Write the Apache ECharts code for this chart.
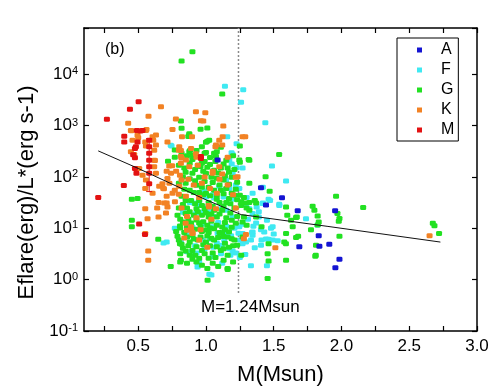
<!DOCTYPE html>
<html>
<head>
<meta charset="utf-8">
<script src="https://cdn.jsdelivr.net/npm/echarts@6/dist/echarts.min.js"></script>
<style>html,body{margin:0;padding:0;background:#fff}#c{width:500px;height:392px}</style>
</head>
<body>
<div id="c"></div>
<script>
// ---- data (mass in Msun, Eflare/L* in erg/(erg s-1)) ----
const classNames = ['A', 'F', 'G', 'K', 'M'];
const xTickLabels = [0.5, 1.0, 1.5, 2.0, 2.5, 3.0];
const xTickMarks = [0.25, 0.5, 0.75, 1.0, 1.25, 1.5, 1.75, 2.0, 2.25, 2.5, 2.75, 3.0];
const massCut = 1.24;

const ptsA = [[1.086,214],[1.406,62],[1.443,28.5],[1.561,39.5],[1.677,22.1],[1.689,4.4],[1.832,7.2],[1.837,4.5],
  [1.91,4.9],[1.953,22],[1.955,1.7],[1.985,2.5]];

const ptsF = [[1.14,5840],[1.275,5010],[1.259,2860],[1.438,1140],[1.226,446],[1.157,611],[1.189,298],[0.746,402],
  [1.487,164],[1.591,84],[1.344,48],[1.462,37],[1.541,28],[1.246,60],[1.32,24.2],[1.418,30.6],[1.738,15.4],
  [1.824,11.6],[1.48,10],[1.529,5.7],[1.443,6.2],[1.406,4.7],[1.332,5.9],[1.344,8.5],[1.27,5.0],[1.185,7.2],
  [1.135,8.5],[1.332,1.87],[1.45,1.87],[1.025,1.28],[1.197,3.6],[0.687,5.2],[1.462,6.1],[1.492,5.9],[1.29,3.1],
  [0.901,3.2],[0.938,1.77],[0.95,2.2],[1.115,4.7],[1.172,4.0],[1.054,4.3],[1.295,5.4],[1.344,7.3],[1.406,9.4],
  [1.492,10.7],[1.374,26],[1.473,35],[1.541,29.5],[1.197,118],[1.226,152],[1.172,214],[1.197,275],[1.148,87],
  [1.172,60],[1.197,37],[1.098,66],[1.061,39],[1.0,26],[0.95,33],[0.926,19.4],[0.852,19.4],[0.889,10.7],
  [1.049,10.7],[1.086,7.9],[1.148,7.9],[1.246,10.7],[1.27,7.9],[1.197,16.6],[1.295,28.4],[1.344,19.4],
  [1.135,5.9],[0.852,7.9],[0.815,5.4],[0.975,5.9],[1.049,2.8],[1.111,3.2],[0.74,417],[1.27,149],[1.12,55],
  [1.13,41],[1.00,41],[0.88,32],[0.91,31],[0.94,28],[1.02,22.5],[1.15,22.5],[0.83,20.5],[0.97,20.5],[0.90,10.6],
  [0.77,10],[1.21,10],[1.25,5.9],[1.34,8.3],[1.41,5.9],[0.71,5.4],[0.86,3.5],[0.93,3.3],[1.22,3.3],[1.04,1.23],
  [0.94,1.9],[1.37,12.7],[1.39,16.6],[1.45,14.4],[1.42,31],[1.42,63],
  [1.03,6.2],[1.08,5.2],[0.99,4.0],[1.15,11],[1.09,13],[1.24,8],[1.18,3.0],[1.27,12],[1.31,15],[1.35,11],
  [1.06,17],[0.97,12],[0.92,4.6],[1.12,2.1],[1.25,2.7],[1.36,4.2],[1.43,8.5],[1.5,7.8],[1.39,21],[1.30,40],
  [1.22,70],[1.19,180],[1.11,24],[1.05,45],[0.99,53]];

const ptsG = [[0.77,243],[0.82,290],[0.90,266],[1.00,300],[1.06,290],[1.11,380],[1.15,213],[1.32,213],[1.25,195],
  [0.80,170],[0.88,187],[0.94,170],[0.97,187],[1.01,155],[1.06,136],[1.11,149],[1.17,124],[0.85,124],[0.90,119],
  [0.95,99],[1.00,119],[1.04,99],[1.08,95],[1.13,87],[1.19,99],[1.23,79],[1.32,76],[0.80,76],[0.85,76],[0.93,69],
  [0.97,63],[1.02,63],[1.06,55],[1.11,55],[1.15,60],[0.88,55],[0.95,50],[1.00,48],[1.08,44],[1.19,48],[1.25,44],
  [1.28,40],[1.32,32],[1.37,31],[0.82,42],[0.89,35],[0.95,35],[1.02,32],[1.10,32],[1.15,32],[1.21,25],[1.26,28],
  [1.30,25],[0.80,25],[0.86,25],[0.93,24],[0.99,24],[1.06,22.5],[1.12,22.5],[0.79,18],[0.85,19.5],[0.91,18],
  [0.97,18],[1.02,16.6],[1.08,16.6],[1.15,16],[1.19,14.4],[1.27,13.3],[1.30,11.5],[0.83,13.3],[0.89,12.7],
  [0.95,12.7],[1.01,11.5],[1.08,11.5],[1.12,10.6],[0.78,8.7],[0.84,8.3],[0.90,7.3],[0.97,8.7],[1.02,8.3],
  [1.10,8.3],[1.16,6.8],[1.21,5.9],[0.80,5.9],[0.88,5.4],[0.94,5.9],[1.00,5.4],[1.06,5.9],[1.14,5.1],[1.27,6.8],
  [0.83,4.1],[0.90,3.7],[0.97,3.7],[1.05,3.3],[1.11,3.7],[1.17,4.3],[0.95,2.6],[0.88,3.0],[1.02,2.6],[1.16,3.0],
  [0.74,1.8],[0.86,2.1],[0.93,2.2],[1.16,1.65],[1.01,1.65],[1.00,475],
  [0.82,18200],[0.90,27600],[1.12,4150],[1.54,275],[1.44,101],[1.47,53],[2.16,25.6],[1.96,42],[1.97,19.4],
  [1.985,15.5],[1.98,13.7],[1.985,7.0],[2.674,12.5],[2.686,11.2],[2.72,7.9],[1.787,27],[1.80,22.6],[1.824,17.3],
  [1.832,13.3],[1.775,9.4],[1.824,11.6],[1.812,4.7],[1.807,2.85],[1.665,16.2],[1.64,10.7],[1.665,6.6],[1.591,7.9],
  [1.578,5.4],[1.591,2.4],[1.591,26],[1.628,14.4],[1.455,1.05],[1.462,2.3],[1.455,3.2],[1.462,5.0],[1.012,0.97],
  [1.16,1.57],[0.815,2.4],[0.453,14.4],[0.453,10.7],[0.453,37],[0.495,38],[0.648,6.1],[0.81,3.2],[0.81,2.2],
  [0.808,5.0],[0.808,11.1],[0.72,203],[0.815,1240],[0.82,890],[0.877,660],[0.96,850],[1.01,900],[0.882,330],
  [0.93,330],[0.97,390],[1.024,520],[1.074,250],[0.877,310],[0.877,700],[1.246,214],[1.315,220],[1.25,400],
  [1.08,310],[1.01,500],[0.87,615],[0.77,335],[0.99,290],[1.26,33],[1.29,31],[1.32,22.5],[1.28,16.6],[1.36,35],
  [1.21,44],[1.37,16.6],[1.60,18],[1.67,16.6],[1.68,7.0],[1.59,5.0],[1.41,10.7],[1.23,4.7],[1.26,3.0],[1.81,3.0],
  [0.84,150],[0.92,140],[0.98,130],[1.03,175],[1.09,120],[1.14,105],[1.21,140],[0.83,100],[0.88,92],[0.92,85],
  [0.99,82],[1.05,78],[1.10,70],[1.17,72],[1.22,58],[0.84,58],[0.91,50],[0.98,45],[1.03,43],[1.13,47],[1.17,38],
  [1.23,36],[0.85,35],[0.92,30],[0.97,28],[1.05,27],[1.08,37],[1.13,27],[1.18,30],[0.83,29],[0.88,21],[0.94,21],
  [1.00,20],[1.04,19],[1.10,19],[1.14,13],[1.18,20],[1.23,17],[0.81,15],[0.87,15],[0.93,14.5],[0.98,13.5],
  [1.04,13.8],[1.06,9.8],[1.14,9.4],[1.19,10.5],[1.22,12.5],[0.81,10.2],[0.86,10.8],[0.92,9.6],[0.96,10.8],
  [1.00,9.3],[1.03,10.2],[1.12,8.0],[1.17,8.6],[0.79,7.0],[0.86,6.8],[0.91,6.2],[0.96,6.8],[1.01,7.1],[1.04,6.4],
  [1.09,6.6],[1.13,6.9],[1.19,6.3],[0.82,4.9],[0.87,4.6],[0.93,4.4],[0.98,4.8],[1.03,4.6],[1.08,4.4],[1.13,4.0],
  [1.20,4.6],[0.85,3.6],[0.92,3.0],[0.99,3.2],[1.07,2.7],[1.13,2.4],[0.90,2.5],[1.05,2.1],[0.97,1.9],[1.09,1.8],
  [1.20,2.2],[0.96,160],[1.07,200],[1.13,180],[0.90,220],[1.20,260],[0.86,260],[1.03,240],[0.99,200],[1.16,150]];

const ptsK = [[0.668,2340],[0.926,1870],[0.995,1790],[0.576,1530],[0.426,1110],[0.778,1350],[1.128,990],[1.27,610],
  [0.753,840],[0.823,610],[0.897,610],[0.446,810],[0.495,660],[0.557,810],[0.606,610],[0.631,420],[0.552,480],
  [0.716,480],[1.074,420],[1.098,520],[1.123,610],[0.963,1250],[0.803,390],[0.815,250],[0.815,185],[0.742,118],
  [0.716,94],[0.679,74],[0.655,66],[0.606,48],[0.552,60],[0.552,24],[0.569,15.4],[0.552,7.9],[0.574,3.6],
  [0.574,2.4],[0.65,16.6],[0.705,20],[0.716,26],[0.753,48],[0.803,66],[1.512,4.2],[2.65,7.2],[1.233,101],
  [1.29,610],[0.852,214],[0.877,158],[0.926,285],[1.049,118],[1.098,158],[0.901,7.9],[0.889,10.7],[0.95,5.9],
  [1.024,26],[0.852,42],[1.295,7.6],[1.074,24],[0.561,840],[0.631,660],[0.45,800],[0.50,580],[0.611,520],
  [0.98,1230],[0.815,330],[0.623,210],[0.729,164],[0.685,60],[0.808,108],[0.771,33],[0.692,31],[0.64,25],
  [0.458,520],[0.446,310],[0.47,275],[0.507,147],[0.532,108],[0.557,87],[0.618,333],[0.618,158],[0.631,118],
  [0.557,400],[0.62,213],[0.80,333],[0.89,360],[0.93,243],[0.82,235],[0.75,165],[0.71,130],[0.78,130],[0.82,87],
  [0.73,76],[0.69,59],[0.77,55],[0.71,42],[0.80,46],[0.65,32],[0.71,31],[0.82,25],[1.02,28],[1.07,390],[1.12,420],
  [1.16,243],[1.22,99],[0.89,9.9],[0.86,9.2],[0.90,8.3],[1.01,4.3],[1.22,25],[1.28,6.3],[1.08,48],[0.97,76],
  [1.05,130],[1.12,115],[0.86,17],[0.93,16],[0.85,12.5],[0.96,9.4],[0.84,6.5],[1.04,15],[0.95,40],[0.91,70],
  [0.99,100],[1.03,60],[0.87,90],[0.94,170],[1.1,90],[1.16,70],[1.2,45]];

const ptsM = [[0.503,2930],[0.439,2080],[0.269,1340],[0.397,620],[0.397,480],[0.495,480],[0.483,390],[0.476,360],
  [0.463,270],[0.476,238],[0.476,147],[0.487,118],[0.394,68],[0.205,40],[0.507,12.1],[0.55,7.6],[0.49,810],
  [0.532,810],[0.517,790],[0.963,230],[0.963,250],[0.581,521],[0.581,390],[0.581,290],[0.581,213],[0.581,158],
  [0.581,118],[0.581,74]];
const errM = [[0.581, 52, 560]];

const fitMass = [0.205, 0.5, 1.0, 1.26, 1.9, 2.73];
const fitVal = [323, 147, 36, 18.5, 10.9, 5.4];
const cutLine = [[massCut, 0.55], [massCut, 80000]];

// ---- chart ----
const FONT = 'Liberation Sans, Arial, sans-serif';
const colors = {A: '#1414d2', F: '#3fe9f2', G: '#22e122', K: '#f28224', M: '#e31212'};
const zOrder = {A: 5, F: 2, G: 3, K: 4, M: 6};
const ptsByClass = {A: ptsA, F: ptsF, G: ptsG, K: ptsK, M: ptsM};

function powLabel(v) {
  const l = Math.log10(v);
  const e = Math.round(l);
  if (Math.abs(l - e) > 0.01) return '';
  return '10{s|' + e + '}';
}

const axisLineStyle = {lineStyle: {color: '#000', width: 1.5}};
const tickStyle = {inside: true, length: 5, lineStyle: {color: '#000', width: 1.2}};

const chart = echarts.init(document.getElementById('c'), null, {renderer: 'canvas'});
const series = classNames.map(c => ({
  name: c, type: 'scatter', xAxisIndex: 0, yAxisIndex: 0,
  data: ptsByClass[c], symbol: 'roundRect', symbolSize: [6, 5], z: zOrder[c],
  itemStyle: {color: colors[c], opacity: 1}, emphasis: {disabled: true}, silent: true
}));
series.push({
  type: 'custom', xAxisIndex: 0, yAxisIndex: 0, z: 6, silent: true,
  data: errM, encode: {x: 0, y: [1, 2]},
  renderItem: function (params, api) {
    const x = api.value(0);
    const p1 = api.coord([x, api.value(1)]);
    const p2 = api.coord([x, api.value(2)]);
    const st = {stroke: colors.M, lineWidth: 1};
    return {type: 'group', children: [
      {type: 'line', shape: {x1: p1[0], y1: p1[1], x2: p2[0], y2: p2[1]}, style: st},
      {type: 'line', shape: {x1: p1[0] - 3, y1: p1[1], x2: p1[0] + 3, y2: p1[1]}, style: st},
      {type: 'line', shape: {x1: p2[0] - 3, y1: p2[1], x2: p2[0] + 3, y2: p2[1]}, style: st}
    ]};
  }
});
series.push({
  type: 'line', xAxisIndex: 0, yAxisIndex: 0, z: 7, silent: true, symbol: 'none',
  data: fitMass.map((m, i) => [m, fitVal[i]]),
  lineStyle: {color: '#111', width: 1}
});
series.push({
  type: 'line', xAxisIndex: 0, yAxisIndex: 0, z: 1, silent: true, symbol: 'none',
  data: cutLine, lineStyle: {color: '#8a8a8a', width: 1.5, type: [2, 2]}
});

chart.setOption({
  animation: false,
  backgroundColor: '#fff',
  grid: {left: 84, right: 23, top: 28, bottom: 61},
  legend: {
    data: classNames, orient: 'vertical', left: 397, top: 38,
    itemWidth: 5, itemHeight: 5, itemGap: 4, icon: 'rect', selectedMode: false,
    borderColor: '#000', borderWidth: 1, padding: [4, 4, 3, 20],
    textStyle: {fontFamily: FONT, fontSize: 16, color: '#000', lineHeight: 16, padding: [0, 0, 0, 14]}
  },
  xAxis: [{
    type: 'value', position: 'bottom', min: 0.1, max: 3.0,
    axisLine: axisLineStyle,
    axisTick: Object.assign({customValues: xTickMarks}, tickStyle),
    axisLabel: {customValues: xTickLabels, margin: 7, fontFamily: FONT, fontSize: 17, color: '#000',
      formatter: v => v.toFixed(1)},
    splitLine: {show: false},
    name: 'M(Msun)', nameLocation: 'middle', nameGap: 33,
    nameTextStyle: {fontFamily: FONT, fontSize: 22, color: '#000'}
  }, {
    type: 'value', position: 'top', min: 0.1, max: 3.0,
    axisLine: axisLineStyle,
    axisTick: Object.assign({customValues: xTickMarks}, tickStyle),
    axisLabel: {show: false}, splitLine: {show: false}
  }],
  yAxis: [{
    type: 'log', position: 'left', min: 0.1, max: 80000, logBase: 10,
    axisLine: axisLineStyle, axisTick: tickStyle,
    axisLabel: {margin: 6, fontFamily: FONT, fontSize: 17, color: '#000', formatter: powLabel,
      rich: {s: {fontFamily: FONT, fontSize: 11, color: '#000', verticalAlign: 'top', padding: [0, 0, 6, 0]}}},
    splitLine: {show: false}, minorTick: {show: false},
    name: 'Eflare(erg)/L*(erg s-1)', nameLocation: 'middle', nameGap: 42,
    nameTextStyle: {fontFamily: FONT, fontSize: 22, color: '#000', padding: [0, 26, 0, 0]}
  }, {
    type: 'log', position: 'right', min: 0.1, max: 80000, logBase: 10,
    axisLine: axisLineStyle, axisTick: tickStyle,
    axisLabel: {show: false}, splitLine: {show: false}
  }],
  graphic: [
    {type: 'text', left: 105, top: 42, silent: true,
      style: {text: '(b)', font: '16px ' + FONT, fill: '#000'}},
    {type: 'text', left: 201, top: 299, silent: true,
      style: {text: 'M=1.24Msun', font: '17px ' + FONT, fill: '#000'}}
  ],
  series: series
});
</script>
</body>
</html>
